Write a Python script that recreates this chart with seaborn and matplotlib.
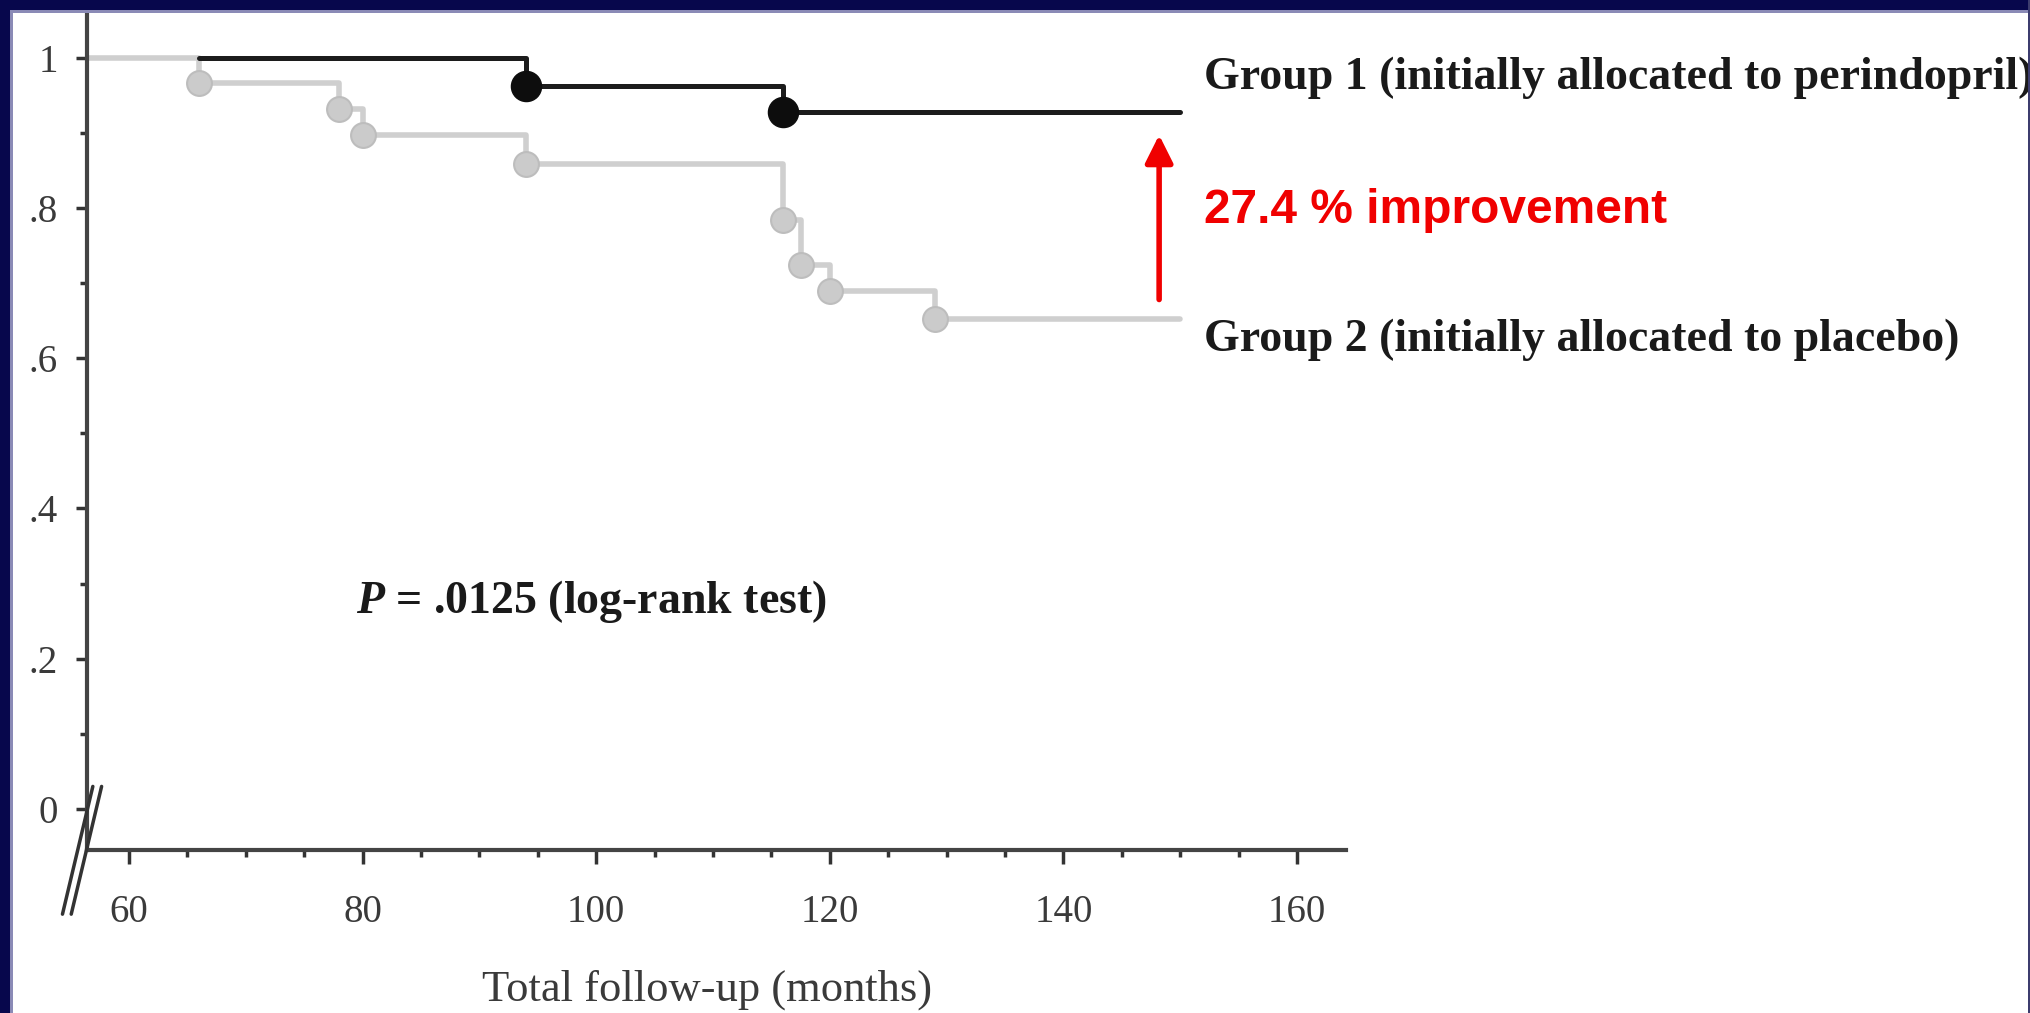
import numpy as np
import pandas as pd
import seaborn as sns
import matplotlib.pyplot as plt
from matplotlib.patches import Rectangle

# ---------------- data ----------------
g1_months = [66, 94, 116, 150]
g1_surv = [1.0, 0.962, 0.928, 0.928]
g1_event_months = [94, 116]
g1_event_surv = [0.962, 0.928]

g2_months = [56.4, 66, 78, 80, 94, 116, 117.5, 120, 129, 150]
g2_surv = [1.0, 0.966, 0.931, 0.897, 0.859, 0.784, 0.724, 0.690, 0.652, 0.652]
g2_event_months = [66, 78, 80, 94, 116, 117.5, 120, 129]
g2_event_surv = [0.966, 0.931, 0.897, 0.859, 0.784, 0.724, 0.690, 0.652]

x_ticks = [60, 80, 100, 120, 140, 160]
y_ticks = [0, 0.2, 0.4, 0.6, 0.8, 1.0]
y_tick_labels = ["0", ".2", ".4", ".6", ".8", "1"]

label_g1 = "Group 1 (initially allocated to perindopril)"
label_g2 = "Group 2 (initially allocated to placebo)"
label_gain = "27.4 % improvement"
label_p = r"$P$ = .0125 (log-rank test)"
label_x = "Total follow-up (months)"

# ---------------- style ----------------
sns.set_theme(style="white")
plt.rcParams["font.family"] = ["Liberation Serif", "DejaVu Serif"]
plt.rcParams["mathtext.fontset"] = "custom"
plt.rcParams["mathtext.it"] = "Liberation Serif:italic:bold"
plt.rcParams["mathtext.rm"] = "Liberation Serif:bold"

W, H = 2030, 1013
fig = plt.figure(figsize=(W / 100, H / 100), dpi=100, facecolor="white")

# slide frame
navy = "#07074c"
fig.add_artist(Rectangle((0, 1 - 10 / H), 1, 10 / H, transform=fig.transFigure,
                         color=navy, lw=0, zorder=10))
fig.add_artist(Rectangle((0, 1 - 13 / H), 1, 3 / H, transform=fig.transFigure,
                         color="#8a8ab6", lw=0, zorder=9))
fig.add_artist(Rectangle((0, 0), 10 / W, 1, transform=fig.transFigure,
                         color=navy, lw=0, zorder=10))
fig.add_artist(Rectangle((10 / W, 0), 3 / W, 1, transform=fig.transFigure,
                         color="#8a8ab6", lw=0, zorder=9))
fig.add_artist(Rectangle((1 - 2 / W, 0), 2 / W, 1, transform=fig.transFigure,
                         color="#3c3c6e", lw=0, zorder=10))

ax = fig.add_axes([87 / W, (H - 850) / H, (1346 - 87) / W, (850 - 14) / H])
ax.set_facecolor("white")
ax.set_xlim(56.4, 164.2)
ax.set_ylim(-0.0546, 1.058)

# curves
sns.lineplot(x=g1_months, y=g1_surv, drawstyle="steps-post", color="#1c1c1c",
             lw=3.6, ax=ax, estimator=None, sort=False, zorder=3)
sns.lineplot(x=g2_months, y=g2_surv, drawstyle="steps-post", color="#cfcfcf",
             lw=4, ax=ax, estimator=None, sort=False, zorder=2)
sns.scatterplot(x=g2_event_months, y=g2_event_surv, s=320, color="#cbcbcb",
                edgecolor="#bdbdbd", linewidth=1.5, ax=ax, zorder=4)
sns.scatterplot(x=g1_event_months, y=g1_event_surv, s=470, color="#0d0d0d",
                edgecolor="#0d0d0d", linewidth=1, ax=ax, zorder=5)

# axes styling
for s in ["top", "right"]:
    ax.spines[s].set_visible(False)
for s in ["left", "bottom"]:
    ax.spines[s].set_color("#444444")
    ax.spines[s].set_linewidth(3)

ax.set_xticks(x_ticks)
ax.set_xticks(np.arange(60, 161, 5), minor=True)
ax.set_yticks(y_ticks)
ax.set_yticklabels(y_tick_labels)
ax.set_yticks(np.arange(0.1, 1.0, 0.2), minor=True)
ax.tick_params(which="both", bottom=True, left=True, top=False, right=False)
ax.tick_params(axis="both", which="major", direction="out", color="#333333",
               width=2.5, labelsize=28, labelcolor="#3a3a3a")
ax.tick_params(axis="x", which="major", length=10, pad=22)
ax.tick_params(axis="y", which="major", length=8, pad=13)
ax.tick_params(axis="both", which="minor", direction="out", length=5,
               width=2.5, color="#333333")
ax.grid(False)

# axis break
for dx in (0.0, 0.75):
    ax.plot([56.9 + dx, 54.3 + dx], [0.03, -0.14], color="#333333", lw=2.5,
            clip_on=False, zorder=6)

# annotations
ax.annotate("", xy=(148.2, 0.897), xytext=(148.2, 0.678),
            arrowprops=dict(arrowstyle="-|>", color="#f00000", lw=4,
                            mutation_scale=42, shrinkA=0, shrinkB=0),
            annotation_clip=False)
ax.text(152, 0.973, label_g1, fontsize=33, fontweight="bold", color="#1a1a1a",
        va="center", ha="left", clip_on=False)
ax.text(152, 0.624, label_g2, fontsize=33, fontweight="bold", color="#1a1a1a",
        va="center", ha="left", clip_on=False)
ax.text(152, 0.796, label_gain, fontsize=34.5, fontweight="bold", color="#f00000",
        family=["Liberation Sans", "DejaVu Sans"], va="center", ha="left",
        clip_on=False)
ax.text(79.4, 0.2756, label_p, fontsize=33, fontweight="bold", color="#1a1a1a",
        va="center", ha="left")
fig.text(707 / W, 1 - 990 / H, label_x, ha="center", va="center", fontsize=32,
         color="#3a3a3a")

fig.savefig("out.png", dpi=100, facecolor="white")
